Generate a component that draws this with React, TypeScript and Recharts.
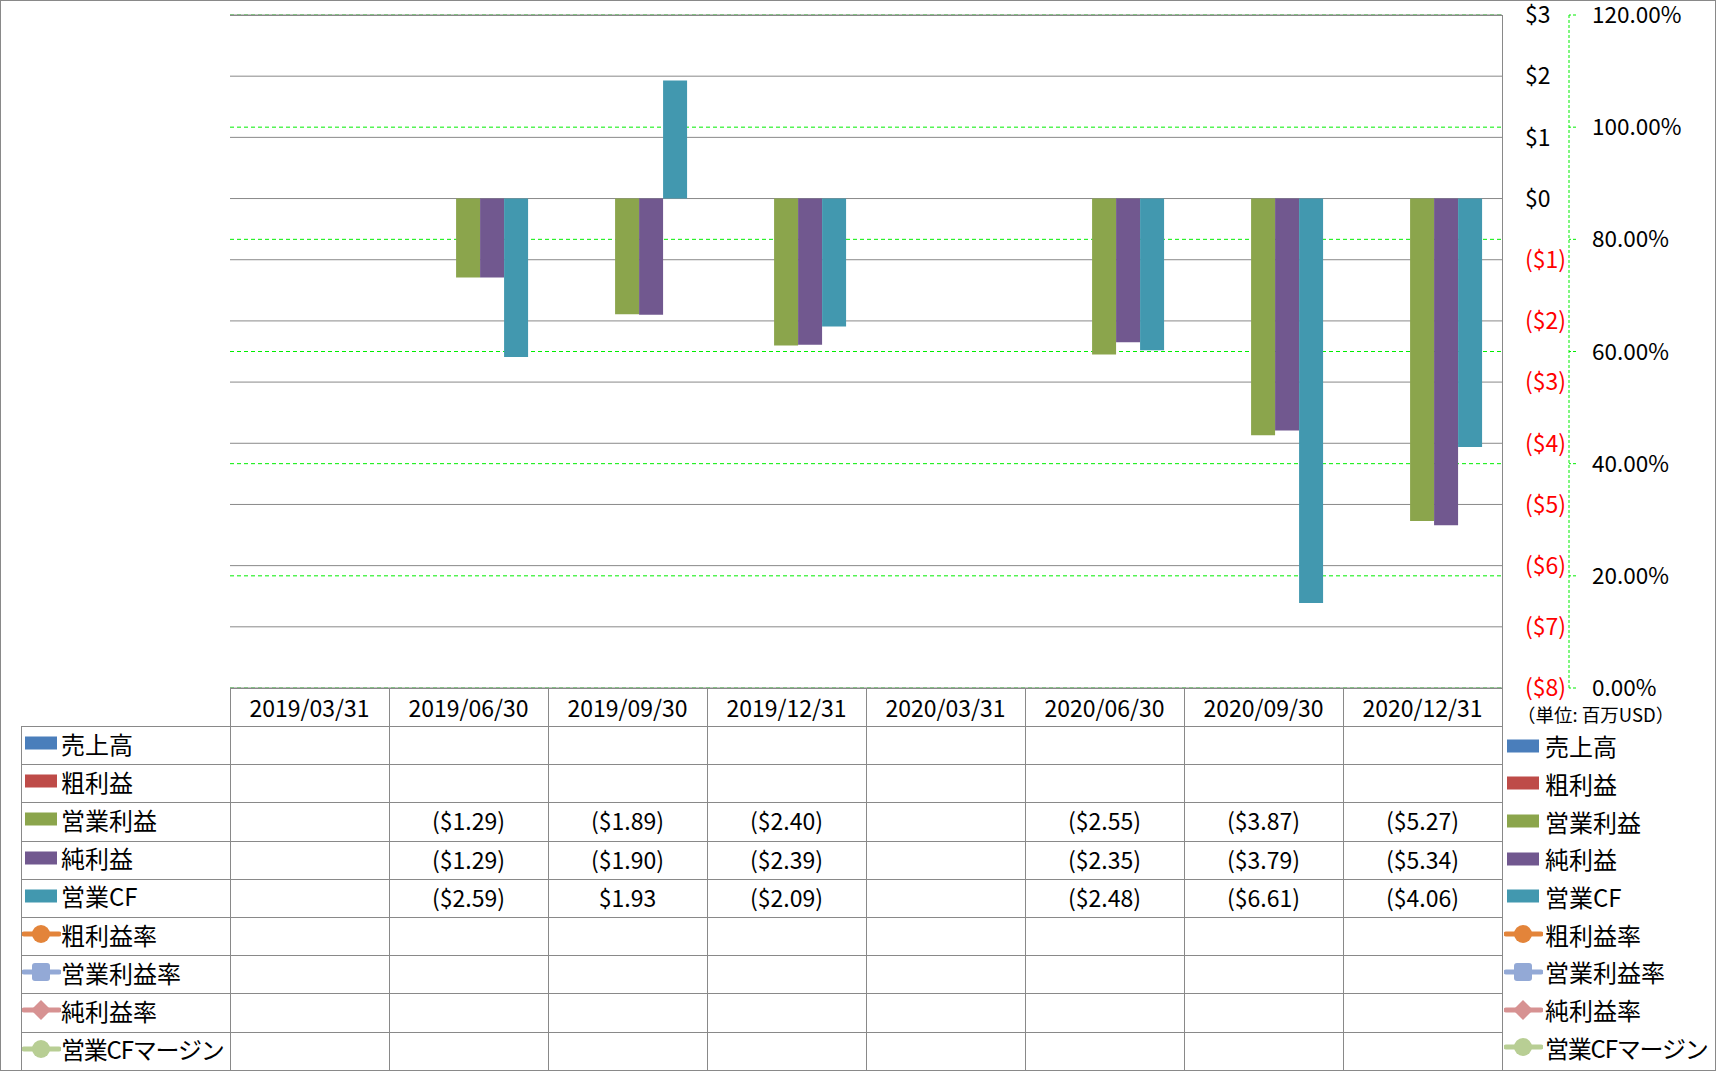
import { Bar, CartesianGrid, ComposedChart, Line, XAxis, YAxis } from "recharts";

// quarter ends
const dates = ["2019/03/31", "2019/06/30", "2019/09/30", "2019/12/31", "2020/03/31", "2020/06/30", "2020/09/30", "2020/12/31"];

// millions USD
const sales = [null, null, null, null, null, null, null, null];
const grossProfit = [null, null, null, null, null, null, null, null];
const opIncome = [null, -1.29, -1.89, -2.4, null, -2.55, -3.87, -5.27];
const netIncome = [null, -1.29, -1.9, -2.39, null, -2.35, -3.79, -5.34];
const opCF = [null, -2.59, 1.93, -2.09, null, -2.48, -6.61, -4.06];

// ratios
const grossMargin = [null, null, null, null, null, null, null, null];
const opMargin = [null, null, null, null, null, null, null, null];
const netMargin = [null, null, null, null, null, null, null, null];
const cfMargin = [null, null, null, null, null, null, null, null];

const usdTicks = [3, 2, 1, 0, -1, -2, -3, -4, -5, -6, -7, -8];
const pctTicks = [0, 0.2, 0.4, 0.6, 0.8, 1.0, 1.2];

const series = [
  { key: "sales", name: "売上高", values: sales, color: "#4A7EBB", kind: "bar" },
  { key: "gross", name: "粗利益", values: grossProfit, color: "#BE4B48", kind: "bar" },
  { key: "op", name: "営業利益", values: opIncome, color: "#8BA54C", kind: "bar" },
  { key: "net", name: "純利益", values: netIncome, color: "#71588F", kind: "bar" },
  { key: "cf", name: "営業CF", values: opCF, color: "#4298AF", kind: "bar" },
  { key: "gm", name: "粗利益率", values: grossMargin, color: "#E3843A", kind: "circle" },
  { key: "om", name: "営業利益率", values: opMargin, color: "#93A9D6", kind: "square" },
  { key: "nm", name: "純利益率", values: netMargin, color: "#D79292", kind: "diamond" },
  { key: "cm", name: "営業CFマージン", values: cfMargin, color: "#B8CE94", kind: "circle" },
];

const data = dates.map((d, i) => {
  const row: any = { date: d };
  series.forEach((s) => (row[s.key] = s.values[i]));
  return row;
});

const FONT = "'Noto Sans CJK JP', 'Noto Sans', sans-serif";
const GRID = "#898989";
const GREEN = "#00ee00";

const W = 1716;
const H = 1071;
const plotL = 230;
const plotR = 1502;
const plotT = 15;
const plotB = 688;
const colW = (plotR - plotL) / dates.length;
const rowTop = 726;
const rowH = 38.2;

const fmtUsd = (v: number | null) => {
  if (v == null) return "";
  return v < 0 ? `($${Math.abs(v).toFixed(2)})` : `$${v.toFixed(2)}`;
};

const UsdTick = (props: any) => {
  const { x, y, payload } = props;
  const v = payload.value;
  return (
    <text x={x} y={y} dy="0.36em" textAnchor="start" fontSize={23} fontFamily={FONT} fill={v < 0 ? "#ff0000" : "#000"}>
      {v < 0 ? `($${-v})` : `$${v}`}
    </text>
  );
};

const PctTick = (props: any) => {
  const { x, y, payload } = props;
  return (
    <text x={x} y={y} dy="0.36em" textAnchor="start" fontSize={22.5} fontFamily={FONT} fill="#000">
      {(payload.value * 100).toFixed(2) + "%"}
    </text>
  );
};

const KeyIcon = ({ s }: { s: (typeof series)[number] }) => {
  if (s.kind === "bar") {
    return (
      <svg width={39} height={22} style={{ display: "block" }}>
        <rect x={3} y={4.5} width={32} height={13} fill={s.color} />
      </svg>
    );
  }
  return (
    <svg width={39} height={22} style={{ display: "block" }}>
      <line x1={2} y1={11} x2={37} y2={11} stroke={s.color} strokeWidth={5} strokeLinecap="round" />
      {s.kind === "circle" && <circle cx={19} cy={11} r={9} fill={s.color} />}
      {s.kind === "square" && <rect x={10} y={2} width={18} height={18} rx={3} fill={s.color} />}
      {s.kind === "diamond" && <polygon points="19,1 29,11 19,21 9,11" fill={s.color} />}
    </svg>
  );
};

const hLine = (x1: number, x2: number, y: number, k: string) => (
  <div key={k} style={{ position: "absolute", left: x1, top: Math.round(y), width: x2 - x1, height: 1, background: GRID }} />
);
const vLine = (x: number, y1: number, y2: number, k: string) => (
  <div key={k} style={{ position: "absolute", left: Math.round(x), top: y1, width: 1, height: y2 - y1, background: GRID }} />
);

// long label gets squeezed a bit to fit its cell
const labelStyle = (name: string) => (name.length > 6 ? { letterSpacing: -1.2 } : {});

export default function App() {
  const lines: any[] = [];
  lines.push(hLine(plotL, plotR, plotT, "ht"));
  lines.push(hLine(plotL, plotR, plotB, "hb"));
  for (let i = 0; i <= series.length; i++) lines.push(hLine(21, plotR, rowTop + i * rowH, "h" + i));
  lines.push(vLine(21, rowTop, H, "v0"));
  for (let i = 0; i < dates.length; i++) lines.push(vLine(plotL + i * colW, plotB, H, "vc" + i));
  lines.push(vLine(plotR, plotT, H, "vr"));

  return (
    <div style={{ position: "absolute", left: 0, top: 0, width: W, height: H, background: "#fff", fontFamily: FONT }}>
      <ComposedChart
        width={W}
        height={H}
        data={data}
        margin={{ top: plotT, right: 7, left: plotL, bottom: H - plotB }}
        barCategoryGap="12%"
        barGap={0}
      >
        <XAxis dataKey="date" hide />
        <YAxis
          yAxisId="a"
          orientation="right"
          width={67}
          type="number"
          domain={[-8, 3]}
          allowDataOverflow
          ticks={usdTicks}
          interval={0}
          axisLine={false}
          tickLine={false}
          tickSize={0}
          tickMargin={23}
          tick={<UsdTick />}
        />
        <YAxis
          yAxisId="b"
          orientation="right"
          width={140}
          type="number"
          domain={[0, 1.2]}
          allowDataOverflow
          ticks={pctTicks}
          interval={0}
          axisLine={{ stroke: GREEN, strokeDasharray: "3 2" }}
          tickLine={{ stroke: GREEN, strokeDasharray: "3 2" }}
          tickSize={7}
          tickMargin={16}
          tick={<PctTick />}
        />
        <CartesianGrid yAxisId="b" vertical={false} stroke={GREEN} strokeDasharray="4 3" />
        <CartesianGrid yAxisId="a" vertical={false} stroke={GRID} />
        {series
          .filter((s) => s.kind === "bar")
          .map((s) => (
            <Bar key={s.key} yAxisId="a" dataKey={s.key} name={s.name} fill={s.color} isAnimationActive={false} />
          ))}
        {series
          .filter((s) => s.kind !== "bar")
          .map((s) => (
            <Line key={s.key} yAxisId="b" dataKey={s.key} name={s.name} stroke={s.color} strokeWidth={3} dot={false} isAnimationActive={false} />
          ))}
      </ComposedChart>

      {lines}

      {dates.map((d, i) => (
        <div
          key={d}
          style={{ position: "absolute", left: plotL + i * colW, top: plotB, width: colW, height: rowTop - plotB, display: "flex", alignItems: "center", justifyContent: "center", fontSize: 23 }}
        >
          {d}
        </div>
      ))}

      {series.map((s, r) => (
        <div key={s.key}>
          <div style={{ position: "absolute", left: 22, top: rowTop + r * rowH - 2, height: rowH, display: "flex", alignItems: "center", fontSize: 24, whiteSpace: "nowrap" }}>
            <KeyIcon s={s} />
            <span style={labelStyle(s.name)}>{s.name}</span>
          </div>
          {s.kind === "bar" &&
            s.values.map((v, i) => (
              <div
                key={i}
                style={{ position: "absolute", left: plotL + i * colW, top: rowTop + r * rowH - 1, width: colW, height: rowH, display: "flex", alignItems: "center", justifyContent: "center", fontSize: 23 }}
              >
                {fmtUsd(v)}
              </div>
            ))}
        </div>
      ))}

      <div style={{ position: "absolute", left: 1517, top: 701, fontSize: 18.5, whiteSpace: "nowrap" }}>（単位: 百万USD）</div>

      {series.map((s, r) => (
        <div key={"lg" + s.key} style={{ position: "absolute", left: 1504, top: 748.6 + r * 37.7 - 19, height: 32, display: "flex", alignItems: "center", fontSize: 24, whiteSpace: "nowrap" }}>
          <KeyIcon s={s} />
          <span style={{ marginLeft: 2, ...labelStyle(s.name) }}>{s.name}</span>
        </div>
      ))}

      <div style={{ position: "absolute", left: 0, top: 0, width: W, height: H, boxSizing: "border-box", border: `1px solid ${GRID}`, pointerEvents: "none" }} />
    </div>
  );
}
